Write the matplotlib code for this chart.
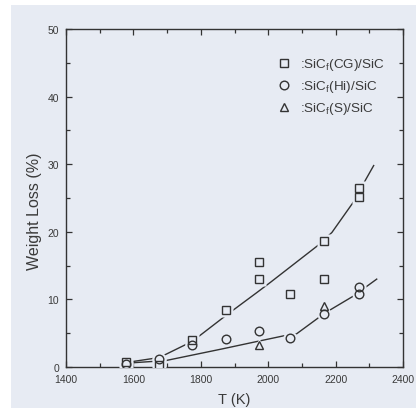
import matplotlib.pyplot as plt
from matplotlib.patches import Rectangle

# measured weight loss (%) vs temperature (K)
cg_T = [1578, 1677, 1775, 1874, 1973, 1973, 2064, 2166, 2166, 2270, 2270]
cg_wl = [0.7, 0.3, 4.0, 8.5, 15.5, 13.0, 10.8, 18.7, 13.0, 26.5, 25.1]

hi_T = [1578, 1677, 1775, 1874, 1973, 2064, 2166, 2270, 2270]
hi_wl = [0.4, 1.2, 3.2, 4.1, 5.3, 4.3, 7.9, 11.9, 10.8]

s_T = [1973, 2166]
s_wl = [3.2, 9.0]

# hand-drawn trend curves
upper_T = [1590, 1677, 1775, 1874, 1966, 2006, 2148, 2189, 2267, 2288, 2313]
upper_wl = [0.75, 1.4, 3.8, 7.6, 11.0, 12.5, 18.0, 19.9, 25.4, 27.6, 29.8]
lower_T = [1590, 1696, 1862, 1955, 2045, 2084, 2166, 2189, 2253, 2322]
lower_wl = [0.6, 0.95, 2.66, 3.65, 4.6, 4.9, 7.9, 8.6, 10.5, 13.0]

labels = [':SiC$_\\mathregular{f}$(CG)/SiC', ':SiC$_\\mathregular{f}$(Hi)/SiC', ':SiC$_\\mathregular{f}$(S)/SiC']

paper = '#e7ebf3'
ink = '#333333'

plt.rcParams['font.family'] = 'Liberation Sans'
fig = plt.figure(figsize=(4.16, 4.14), dpi=100)
fig.patch.set_facecolor('white')
fig.patches.append(Rectangle((11 / 416, 5 / 414), 1, 403 / 414, transform=fig.transFigure,
                             facecolor=paper, edgecolor='none', zorder=-1))
ax = fig.add_axes([66 / 416, 46 / 414, 337 / 416, 338 / 414])
ax.set_facecolor(paper)

ax.plot(upper_T, upper_wl, color=ink, lw=1.0, zorder=2)
ax.plot(lower_T, lower_wl, color=ink, lw=1.0, zorder=2)

series = [(cg_T, cg_wl, 's', 5.6), (hi_T, hi_wl, 'o', 6.2), (s_T, s_wl, '^', 6.4)]
# halos leave little gaps where the curves meet the symbols
for T, wl, m, ms in series:
    ax.plot(T, wl, ls='none', marker=m, ms=ms + 4, mfc=paper, mec='none', zorder=3)
handles = []
for T, wl, m, ms in series:
    h, = ax.plot(T, wl, ls='none', marker=m, ms=ms, mfc='none', mec=ink, mew=1.0, zorder=4)
    handles.append(h)

leg = ax.legend(handles, labels, loc='upper left', bbox_to_anchor=(0.59, 0.955), frameon=False,
                handlelength=1.0, handletextpad=0.7, labelspacing=0.45, fontsize=9.7)
for t in leg.get_texts():
    t.set_color('#3a3a3a')

ax.set_xlim(1400, 2400)
ax.set_ylim(0, 50)
ax.set_xticks(range(1400, 2401, 200))
ax.set_xticks(range(1500, 2400, 200), minor=True)
ax.set_yticks(range(0, 51, 10))
ax.set_yticks(range(5, 50, 10), minor=True)
ax.tick_params(which='both', direction='in', top=True, right=True, colors=ink,
               labelcolor='#3a3a3a', labelsize=7.5, width=0.9)
ax.tick_params(which='major', length=4, pad=5)
ax.tick_params(which='minor', length=3)
for s in ax.spines.values():
    s.set_color(ink)
    s.set_linewidth(1.0)

ax.set_xlabel('T (K)', fontsize=10.5, color='#3a3a3a')
ax.set_ylabel('Weight Loss (%)', fontsize=11.5, color='#3a3a3a')
ax.xaxis.set_label_coords(0.5, -0.074)
ax.yaxis.set_label_coords(-0.071, 0.464)

fig.savefig('out.png', dpi=100)
